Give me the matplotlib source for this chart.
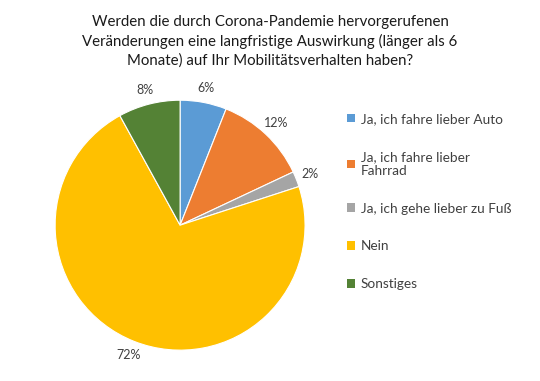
import matplotlib.pyplot as plt
from matplotlib.patches import Patch

plt.rcParams['font.family'] = ['Lato', 'DejaVu Sans']

labels = ["Ja, ich fahre lieber Auto", "Ja, ich fahre lieber\nFahrrad",
          "Ja, ich gehe lieber zu Fuß", "Nein", "Sonstiges"]
values = [6, 12, 2, 72, 8]
colors = ["#5B9BD5", "#ED7D31", "#A5A5A5", "#FFC000", "#548235"]

title = ("Werden die durch Corona-Pandemie hervorgerufenen\n"
         "Veränderungen eine langfristige Auswirkung (länger als 6\n"
         "Monate) auf Ihr Mobilitätsverhalten haben?")

fig = plt.figure(figsize=(5.4, 3.81), dpi=100)
ax = fig.add_axes([0.102, 0.081, 0.463, 0.656])
wedges, texts, autotexts = ax.pie(values, colors=colors, startangle=90, counterclock=False,
                                  autopct="%d%%", pctdistance=1.12,
                                  wedgeprops=dict(edgecolor="white", linewidth=0.8))
for t in autotexts:
    t.set_fontsize(9)
    t.set_color("#404040")
ax.set_xlim(-1, 1)
ax.set_ylim(-1, 1)
ax.set_aspect("equal")

fig.text(0.5, 0.96, title, ha="center", va="top", fontsize=10.8, color="#1a1a1a",
         linespacing=1.4)

handles = [Patch(facecolor=c, edgecolor="none") for c in colors]
fig.legend(handles, labels, loc="upper left", bbox_to_anchor=(0.619, 0.736),
           frameon=False, fontsize=9.8, handlelength=0.6, handleheight=0.6,
           handletextpad=0.45, labelspacing=1.9, labelcolor="#404040")

fig.savefig("out.png", dpi=100)
